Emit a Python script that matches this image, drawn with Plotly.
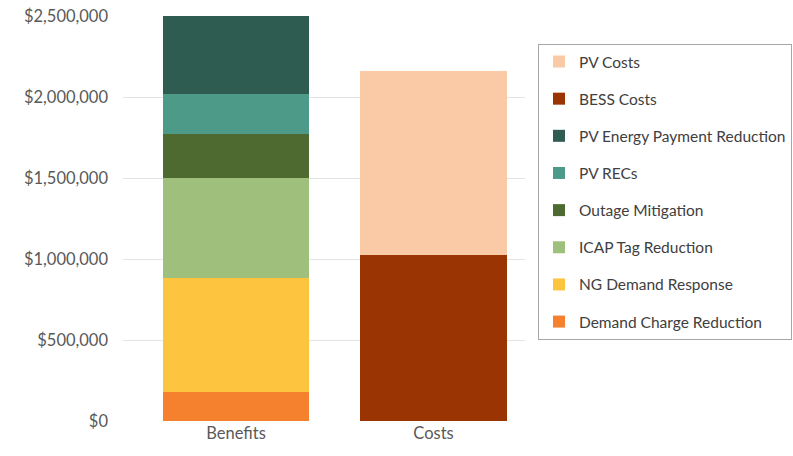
import plotly.graph_objects as go

categories = ["Benefits", "Costs"]
series_names = ["Demand Charge Reduction", "NG Demand Response", "ICAP Tag Reduction",
                "Outage Mitigation", "PV RECs", "PV Energy Payment Reduction",
                "BESS Costs", "PV Costs"]
demand_charge = [180000, 0]
ng_demand_response = [700000, 0]
icap_tag = [620000, 0]
outage = [270000, 0]
pv_recs = [250000, 0]
pv_energy = [485000, 0]
bess_costs = [0, 1025000]
pv_costs = [0, 1135000]
series_values = [demand_charge, ng_demand_response, icap_tag, outage, pv_recs,
                 pv_energy, bess_costs, pv_costs]
colors = ["#F5812E", "#FDC440", "#9EC07C", "#4F6A30", "#4E9A88", "#2F5C50",
          "#9A3503", "#FAC9A6"]
tick_vals = [0, 500000, 1000000, 1500000, 2000000, 2500000]
tick_text = ["$0", "$500,000", "$1,000,000", "$1,500,000", "$2,000,000", "$2,500,000"]

fig = go.Figure()
n = len(series_names)
for i, (name, vals, c) in enumerate(zip(series_names, series_values, colors)):
    fig.add_trace(go.Bar(x=categories, y=vals, name=name, marker_color=c,
                         marker_line_width=0, legendgroup=name,
                         legendrank=1000 + (n - i)))

font = "Lato, Open Sans, sans-serif"
fig.update_layout(
    barmode="stack",
    bargap=0.26,
    width=793, height=456,
    margin=dict(l=123, r=268, t=16, b=35, autoexpand=False),
    plot_bgcolor="white", paper_bgcolor="white",
    font=dict(family=font, size=16.5, color="#595959"),
    showlegend=True,
    legend=dict(traceorder="grouped", x=(538 - 123) / 402, y=0.931,
                xanchor="left", yanchor="top",
                bordercolor="#A6A6A6", borderwidth=1, tracegroupgap=14,
                bgcolor="white",
                font=dict(size=15.5, color="#404040"), itemwidth=30),
    yaxis=dict(range=[0, 2500000], tickvals=tick_vals, ticktext=tick_text,
               showgrid=True, gridcolor="#E3E3E3", gridwidth=1, zeroline=False,
               showline=False, ticks="", ticklen=0, ticklabelstandoff=14,
               automargin=False),
    xaxis=dict(showline=False, ticks="", showgrid=False, range=[-0.572, 1.463],
               automargin=False),
)
fig.write_html("out.html")
